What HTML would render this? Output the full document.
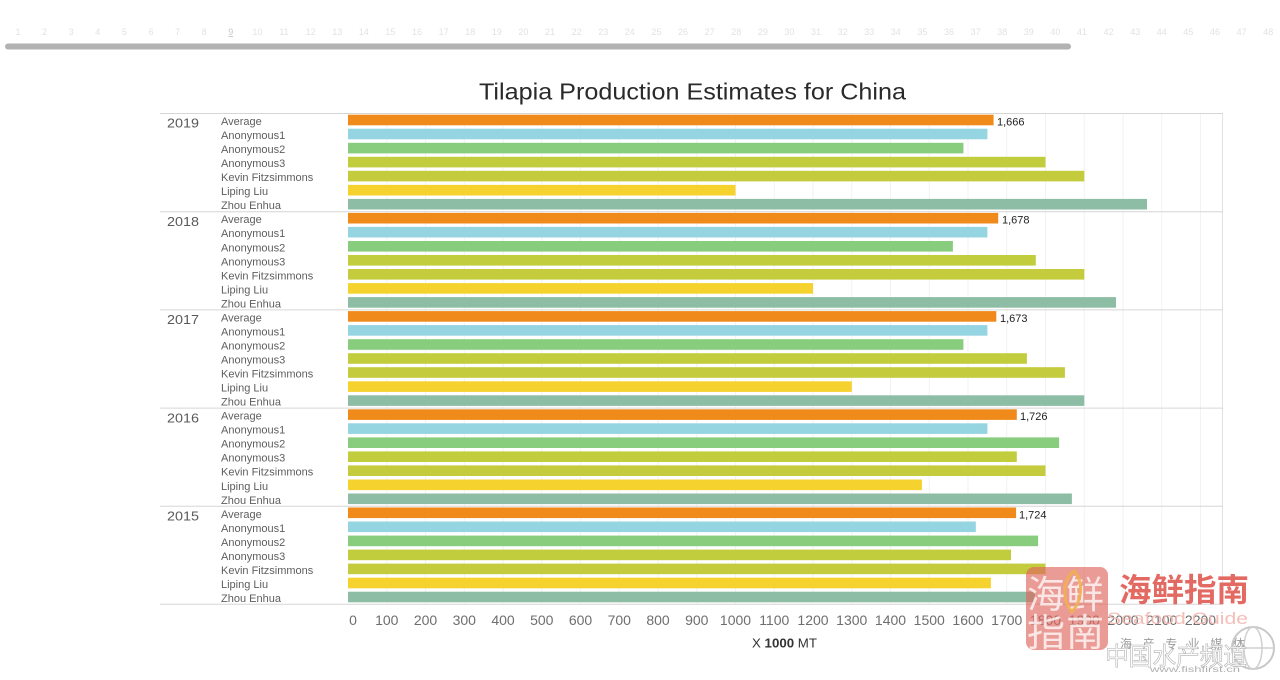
<!DOCTYPE html>
<html><head><meta charset="utf-8"><style>
html,body{margin:0;padding:0;background:#fff;width:1280px;height:680px;overflow:hidden}
svg{display:block}
text{font-family:"Liberation Sans","Noto Sans CJK SC",sans-serif}
</style></head><body>
<svg width="1280" height="680" viewBox="0 0 1280 680" xmlns="http://www.w3.org/2000/svg">
<rect width="1280" height="680" fill="#fff"/>
<!-- top ruler -->
<g font-size="9" fill="#e2e2e2" text-anchor="middle">
<text x="18" y="35">1</text><text x="44.6" y="35">2</text><text x="71.2" y="35">3</text><text x="97.8" y="35">4</text><text x="124.4" y="35">5</text><text x="151" y="35">6</text><text x="177.6" y="35">7</text><text x="204.2" y="35">8</text><text x="230.8" y="35" fill="#c8c8c8" text-decoration="underline">9</text><text x="257.4" y="35">10</text><text x="284" y="35">11</text><text x="310.6" y="35">12</text><text x="337.2" y="35">13</text><text x="363.8" y="35">14</text><text x="390.4" y="35">15</text><text x="417" y="35">16</text><text x="443.6" y="35">17</text><text x="470.2" y="35">18</text><text x="496.8" y="35">19</text><text x="523.4" y="35">20</text><text x="550" y="35">21</text><text x="576.6" y="35">22</text><text x="603.2" y="35">23</text><text x="629.8" y="35">24</text><text x="656.4" y="35">25</text><text x="683" y="35">26</text><text x="709.6" y="35">27</text><text x="736.2" y="35">28</text><text x="762.8" y="35">29</text><text x="789.4" y="35">30</text><text x="816" y="35">31</text><text x="842.6" y="35">32</text><text x="869.2" y="35">33</text><text x="895.8" y="35">34</text><text x="922.4" y="35">35</text><text x="949" y="35">36</text><text x="975.6" y="35">37</text><text x="1002.2" y="35">38</text><text x="1028.8" y="35">39</text><text x="1055.4" y="35">40</text><text x="1082" y="35">41</text><text x="1108.6" y="35">42</text><text x="1135.2" y="35">43</text><text x="1161.8" y="35">44</text><text x="1188.4" y="35">45</text><text x="1215" y="35">46</text><text x="1241.6" y="35">47</text><text x="1268.2" y="35">48</text>
</g>
<rect x="5" y="43.5" width="1066" height="6" rx="3" fill="#b2b2b2"/>

<!-- title -->
<text x="479" y="99.5" font-size="23" fill="#2a2a2a" textLength="427" lengthAdjust="spacingAndGlyphs">Tilapia Production Estimates for China</text>

<!-- gridlines -->
<g stroke="#f2f2f2" stroke-width="1">
<line x1="386.75" y1="113" x2="386.75" y2="604"/><line x1="425.5" y1="113" x2="425.5" y2="604"/><line x1="464.25" y1="113" x2="464.25" y2="604"/><line x1="503" y1="113" x2="503" y2="604"/><line x1="541.75" y1="113" x2="541.75" y2="604"/><line x1="580.5" y1="113" x2="580.5" y2="604"/><line x1="619.25" y1="113" x2="619.25" y2="604"/><line x1="658" y1="113" x2="658" y2="604"/><line x1="696.75" y1="113" x2="696.75" y2="604"/><line x1="735.5" y1="113" x2="735.5" y2="604"/><line x1="774.25" y1="113" x2="774.25" y2="604"/><line x1="813" y1="113" x2="813" y2="604"/><line x1="851.75" y1="113" x2="851.75" y2="604"/><line x1="890.5" y1="113" x2="890.5" y2="604"/><line x1="929.25" y1="113" x2="929.25" y2="604"/><line x1="968" y1="113" x2="968" y2="604"/><line x1="1006.75" y1="113" x2="1006.75" y2="604"/><line x1="1045.5" y1="113" x2="1045.5" y2="604"/><line x1="1084.25" y1="113" x2="1084.25" y2="604"/><line x1="1123" y1="113" x2="1123" y2="604"/><line x1="1161.75" y1="113" x2="1161.75" y2="604"/><line x1="1200.5" y1="113" x2="1200.5" y2="604"/>
</g>
<line x1="1222.5" y1="113" x2="1222.5" y2="604" stroke="#e2e2e2"/>
<!-- separators -->
<g stroke="#d6d6d6" stroke-width="1">
<line x1="160" y1="113.5" x2="1223" y2="113.5"/>
<line x1="160" y1="211.7" x2="1223" y2="211.7"/>
<line x1="160" y1="309.9" x2="1223" y2="309.9"/>
<line x1="160" y1="408.1" x2="1223" y2="408.1"/>
<line x1="160" y1="506.3" x2="1223" y2="506.3"/>
<line x1="160" y1="604.3" x2="1223" y2="604.3"/>
</g>

<!-- year labels -->
<g font-size="13" fill="#5a5a5a">
<text x="167" y="127.7" textLength="32" lengthAdjust="spacingAndGlyphs">2019</text>
<text x="167" y="225.9" textLength="32" lengthAdjust="spacingAndGlyphs">2018</text>
<text x="167" y="324.1" textLength="32" lengthAdjust="spacingAndGlyphs">2017</text>
<text x="167" y="422.3" textLength="32" lengthAdjust="spacingAndGlyphs">2016</text>
<text x="167" y="520.5" textLength="32" lengthAdjust="spacingAndGlyphs">2015</text>
</g>

<!-- row labels -->
<g font-size="11" fill="#5e5e5e">
<text x="221" y="125">Average</text><text x="221" y="139">Anonymous1</text><text x="221" y="153.1">Anonymous2</text><text x="221" y="167.1">Anonymous3</text><text x="221" y="181.1">Kevin Fitzsimmons</text><text x="221" y="195.2">Liping Liu</text><text x="221" y="209.2">Zhou Enhua</text>
<text x="221" y="223.2">Average</text><text x="221" y="237.2">Anonymous1</text><text x="221" y="251.3">Anonymous2</text><text x="221" y="265.3">Anonymous3</text><text x="221" y="279.3">Kevin Fitzsimmons</text><text x="221" y="293.4">Liping Liu</text><text x="221" y="307.4">Zhou Enhua</text>
<text x="221" y="321.4">Average</text><text x="221" y="335.4">Anonymous1</text><text x="221" y="349.5">Anonymous2</text><text x="221" y="363.5">Anonymous3</text><text x="221" y="377.5">Kevin Fitzsimmons</text><text x="221" y="391.6">Liping Liu</text><text x="221" y="405.6">Zhou Enhua</text>
<text x="221" y="419.6">Average</text><text x="221" y="433.6">Anonymous1</text><text x="221" y="447.7">Anonymous2</text><text x="221" y="461.7">Anonymous3</text><text x="221" y="475.7">Kevin Fitzsimmons</text><text x="221" y="489.8">Liping Liu</text><text x="221" y="503.8">Zhou Enhua</text>
<text x="221" y="517.8">Average</text><text x="221" y="531.8">Anonymous1</text><text x="221" y="545.9">Anonymous2</text><text x="221" y="559.9">Anonymous3</text><text x="221" y="573.9">Kevin Fitzsimmons</text><text x="221" y="588">Liping Liu</text><text x="221" y="602">Zhou Enhua</text>
</g>

<!-- bars -->
<g>
<rect x="348" y="114.7" width="645.6" height="10.6" fill="#f08a1b"/>
<rect x="348" y="128.7" width="639.4" height="10.6" fill="#95d4e1"/>
<rect x="348" y="142.8" width="615.4" height="10.6" fill="#87cd7d"/>
<rect x="348" y="156.8" width="697.5" height="10.6" fill="#c2cd3e"/>
<rect x="348" y="170.8" width="736.3" height="10.6" fill="#c4cb3c"/>
<rect x="348" y="184.9" width="387.5" height="10.6" fill="#f5d22e"/>
<rect x="348" y="198.9" width="799" height="10.6" fill="#8dbea5"/>
<rect x="348" y="212.9" width="650.2" height="10.6" fill="#f08a1b"/>
<rect x="348" y="226.9" width="639.4" height="10.6" fill="#95d4e1"/>
<rect x="348" y="241" width="604.9" height="10.6" fill="#87cd7d"/>
<rect x="348" y="255" width="687.8" height="10.6" fill="#c2cd3e"/>
<rect x="348" y="269" width="736.3" height="10.6" fill="#c4cb3c"/>
<rect x="348" y="283.1" width="465" height="10.6" fill="#f5d22e"/>
<rect x="348" y="297.1" width="768" height="10.6" fill="#8dbea5"/>
<rect x="348" y="311.1" width="648.3" height="10.6" fill="#f08a1b"/>
<rect x="348" y="325.1" width="639.4" height="10.6" fill="#95d4e1"/>
<rect x="348" y="339.2" width="615.4" height="10.6" fill="#87cd7d"/>
<rect x="348" y="353.2" width="678.9" height="10.6" fill="#c2cd3e"/>
<rect x="348" y="367.2" width="716.9" height="10.6" fill="#c4cb3c"/>
<rect x="348" y="381.3" width="503.8" height="10.6" fill="#f5d22e"/>
<rect x="348" y="395.3" width="736.3" height="10.6" fill="#8dbea5"/>
<rect x="348" y="409.3" width="668.8" height="10.6" fill="#f08a1b"/>
<rect x="348" y="423.3" width="639.4" height="10.6" fill="#95d4e1"/>
<rect x="348" y="437.4" width="711.1" height="10.6" fill="#87cd7d"/>
<rect x="348" y="451.4" width="668.8" height="10.6" fill="#c2cd3e"/>
<rect x="348" y="465.4" width="697.5" height="10.6" fill="#c4cb3c"/>
<rect x="348" y="479.5" width="573.9" height="10.6" fill="#f5d22e"/>
<rect x="348" y="493.5" width="723.9" height="10.6" fill="#8dbea5"/>
<rect x="348" y="507.5" width="668.1" height="10.6" fill="#f08a1b"/>
<rect x="348" y="521.5" width="627.8" height="10.6" fill="#95d4e1"/>
<rect x="348" y="535.6" width="690.1" height="10.6" fill="#87cd7d"/>
<rect x="348" y="549.6" width="663" height="10.6" fill="#c2cd3e"/>
<rect x="348" y="563.6" width="697.5" height="10.6" fill="#c4cb3c"/>
<rect x="348" y="577.7" width="642.9" height="10.6" fill="#f5d22e"/>
<rect x="348" y="591.7" width="687" height="10.6" fill="#8dbea5"/>
</g>

<!-- value labels -->
<g font-size="11" fill="#222">
<text x="997" y="125.5">1,666</text>
<text x="1002" y="223.7">1,678</text>
<text x="1000" y="321.9">1,673</text>
<text x="1020" y="420.1">1,726</text>
<text x="1019" y="518.3">1,724</text>
</g>

<!-- x axis labels -->
<g font-size="14" fill="#6e6e6e" text-anchor="middle">
<text x="353" y="625">0</text><text x="386.75" y="625">100</text><text x="425.5" y="625">200</text><text x="464.25" y="625">300</text><text x="503" y="625">400</text><text x="541.75" y="625">500</text><text x="580.5" y="625">600</text><text x="619.25" y="625">700</text><text x="658" y="625">800</text><text x="696.75" y="625">900</text><text x="735.5" y="625">1000</text><text x="774.25" y="625">1100</text><text x="813" y="625">1200</text><text x="851.75" y="625">1300</text><text x="890.5" y="625">1400</text><text x="929.25" y="625">1500</text><text x="968" y="625">1600</text><text x="1006.75" y="625">1700</text><text x="1045.5" y="625">1800</text><text x="1084.25" y="625">1900</text><text x="1123" y="625">2000</text><text x="1161.75" y="625">2100</text><text x="1200.5" y="625">2200</text>
</g>
<text x="752" y="647.5" font-size="13" fill="#333" textLength="65" lengthAdjust="spacingAndGlyphs">X <tspan font-weight="bold">1000</tspan> MT</text>

<!-- watermark -->
<g>
<rect x="1026" y="567" width="82" height="83" rx="8" fill="#e0665c" opacity="0.65"/>
<g font-family="Noto Sans CJK SC, sans-serif" fill="#fff" opacity="0.75" font-size="38">
<text x="1027" y="608">海</text>
<text x="1066" y="608">鲜</text>
<text x="1027" y="646">指</text>
<text x="1066" y="646">南</text>
</g>
<path d="M1074 571 C1062 580 1062 600 1072 612 C1082 600 1084 582 1074 571 Z" fill="none" stroke="#f0b050" stroke-width="3" opacity="0.9"/>
<text x="1119" y="601" font-family="Noto Sans CJK SC, sans-serif" font-weight="bold" font-size="32" fill="#e36a62" textLength="130" lengthAdjust="spacingAndGlyphs">海鲜指南</text>
<text x="1107" y="624" font-size="17" fill="#f3b7b1" opacity="0.9" textLength="141" lengthAdjust="spacingAndGlyphs">Seafood Guide</text>
<circle cx="1253" cy="648" r="21" fill="none" stroke="#c8c8c8" stroke-width="2"/>
<ellipse cx="1253" cy="648" rx="9" ry="21" fill="none" stroke="#d0d0d0" stroke-width="1.5"/>
<line x1="1232" y1="648" x2="1274" y2="648" stroke="#d0d0d0" stroke-width="1.5"/>
<text x="1120" y="648" font-family="Noto Sans CJK SC, sans-serif" font-size="12" fill="#9a9a9a" textLength="125" lengthAdjust="spacing">海产专业媒体</text>
<text x="1105" y="665" font-family="Noto Sans CJK SC, sans-serif" font-size="25" fill="#fff" stroke="#b0b0b0" stroke-width="0.6" textLength="142" lengthAdjust="spacingAndGlyphs">中国水产频道</text>
<text x="1150" y="672" font-size="8" fill="#b0b0b0" textLength="90" lengthAdjust="spacingAndGlyphs">www.fishfirst.cn</text>
</g>
</svg>
</body></html>
